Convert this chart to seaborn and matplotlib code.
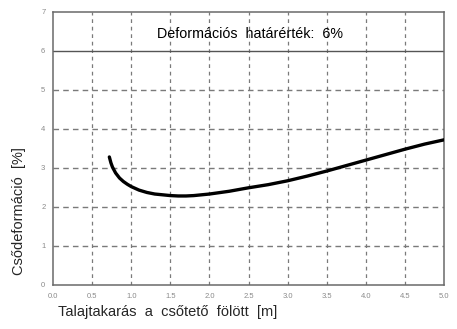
import matplotlib
matplotlib.use("Agg")
import matplotlib.pyplot as plt
import seaborn as sns
import pandas as pd

# Soil cover above the pipe crown [m] and resulting pipe deformation [%]
cover_m = [0.72, 0.74, 0.76, 0.80, 0.85, 0.90, 0.95, 1.00, 1.10, 1.20, 1.30,
           1.40, 1.50, 1.60, 1.70, 1.80, 1.90, 2.00, 2.25, 2.50, 2.75, 3.00,
           3.25, 3.50, 3.75, 4.00, 4.25, 4.50, 4.75, 5.00]
deformation_pct = [3.28, 3.13, 3.02, 2.87, 2.74, 2.65, 2.58, 2.52, 2.43, 2.37,
                   2.33, 2.31, 2.29, 2.28, 2.28, 2.29, 2.31, 2.33, 2.40, 2.49,
                   2.57, 2.67, 2.79, 2.92, 3.06, 3.20, 3.34, 3.48, 3.61, 3.72]

limit_pct = 6
limit_label = "Deformációs  határérték:  6%"
x_ticks = [0.0, 0.5, 1.0, 1.5, 2.0, 2.5, 3.0, 3.5, 4.0, 4.5, 5.0]
y_ticks = [0, 1, 2, 3, 4, 5, 6, 7]
x_label = "Talajtakarás  a  csőtető  fölött  [m]"
y_label = "Csődeformáció  [%]"

sns.set_style("white")
plt.rcParams["font.family"] = ["Liberation Sans", "DejaVu Sans"]

df = pd.DataFrame({"cover": cover_m, "deformation": deformation_pct})

fig = plt.figure(figsize=(4.57, 3.29), dpi=100)
ax = fig.add_axes([0.116, 0.134, 0.856, 0.83])

grid_col = "#7a7a7a"
for xv in x_ticks[1:-1]:
    ax.axvline(xv, color=grid_col, lw=0.9, ls=(0, (3, 3)), zorder=1)
for yv in y_ticks[1:-1]:
    if yv == limit_pct:
        continue
    ax.axhline(yv, color=grid_col, lw=1.0, ls=(0, (4, 3)), zorder=1)

ax.axhline(limit_pct, color="#555555", lw=1.0, zorder=2)

sns.lineplot(data=df, x="cover", y="deformation", ax=ax, color="black",
             lw=2.4, zorder=3, solid_capstyle="round")

ax.text(2.52, 6.44, limit_label, ha="center", va="center", fontsize=10.3,
        color="black")

ax.set_xlim(0, 5)
ax.set_ylim(0, 7)
ax.set_xticks(x_ticks)
ax.set_xticklabels([f"{v:.1f}" for v in x_ticks])
ax.set_yticks(y_ticks)
ax.set_yticklabels([str(v) for v in y_ticks])
ax.tick_params(axis="both", direction="inout", length=5, width=0.9,
               colors="#8a8a8a", labelsize=5.5, pad=3)

for side in ["left", "bottom", "top", "right"]:
    ax.spines[side].set_color("#6a6a6a")
    ax.spines[side].set_linewidth(1.1)
    ax.spines[side].set_visible(True)

ax.set_xlabel(x_label, fontsize=10.5, loc="left", labelpad=0)
ax.xaxis.set_label_coords(0.012, -0.072)
ax.xaxis.label.set_va("top")
ax.set_ylabel(y_label, fontsize=10.5, loc="bottom")
ax.yaxis.set_label_coords(-0.068, 0.037)

fig.savefig("out.png", dpi=100)
